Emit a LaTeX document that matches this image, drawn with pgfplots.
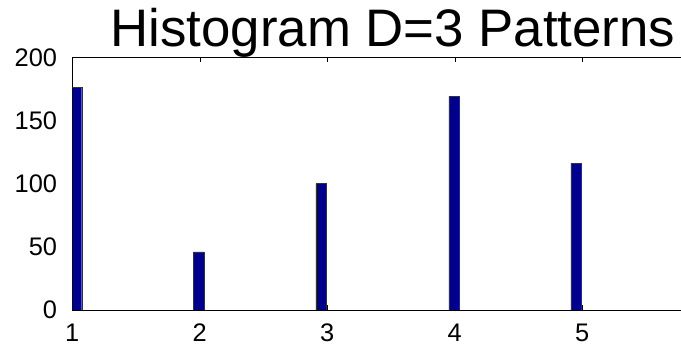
\documentclass[border=0pt]{standalone}
\usepackage{pgfplots}
\pgfplotsset{compat=1.18}
\usepackage{fontspec}
\setmainfont{Liberation Sans}
\definecolor{barblue}{RGB}{0,0,143}
\begin{document}
\begin{tikzpicture}
\useasboundingbox (0,0) rectangle (681bp,346bp);
\begin{axis}[
  at={(72.3bp,36bp)}, anchor=south west,
  scale only axis,
  width=637.5bp, height=252.7bp,
  xmin=1, xmax=6, ymin=0, ymax=200,
  axis x line=box, axis y line=left,
  axis line style={-, line width=0.8pt},
  x axis line style={-}, y axis line style={-},
  xtick={1,2,3,4,5}, ytick={0,50,100,150,200},
  tick align=inside, major tick length=5bp,
  tick style={line width=0.6pt, black},
  /pgf/number format/assume math mode=true,
  ticklabel style={font=\fontsize{25.5}{28}\selectfont, inner sep=0pt},
  yticklabel style={anchor=east, xshift=-15bp},
  xticklabel style={anchor=north, yshift=-13.5bp},
  title={Histogram D=3 Patterns},
  title style={at={(0,1)}, anchor=base west, inner sep=0pt, xshift=38bp, yshift=5.3bp, font=\fontsize{53}{60}\selectfont},
  clip=true,
]
\addplot[ybar, bar width=0.084, bar shift=0pt, fill=barblue, draw=black!80, line width=0.4pt]
  coordinates {(1.032,176) (1.992,46) (2.953,100) (3.996,169) (4.952,116)};
\end{axis}
\end{tikzpicture}
\end{document}
